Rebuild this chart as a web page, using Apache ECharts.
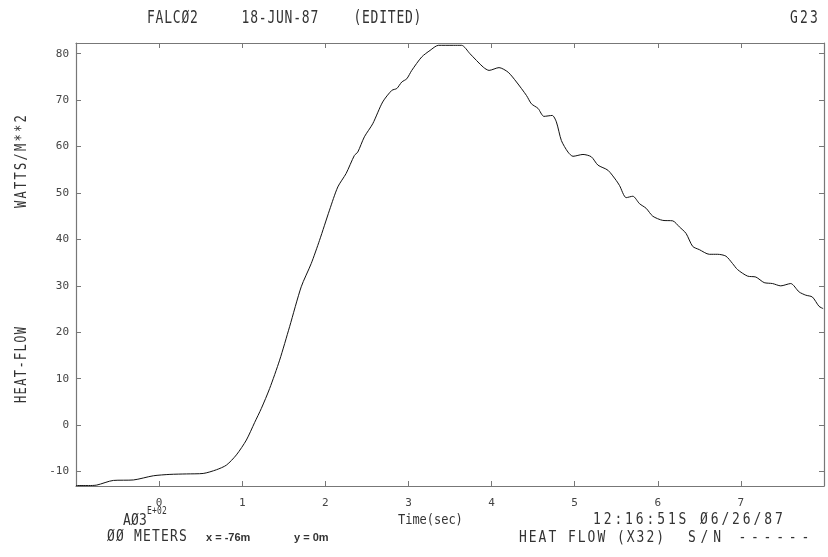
<!DOCTYPE html>
<html>
<head>
<meta charset="utf-8">
<script src="https://cdn.jsdelivr.net/npm/echarts@6/dist/echarts.min.js"></script>
<style>
html,body{margin:0;padding:0;background:#fff;}
#chart{width:828px;height:557px;}
</style>
</head>
<body>
<div id="chart"></div>
<script>
// Time (sec)
var timeSec = [-1.0, -0.85, -0.75, -0.55, -0.31, -0.07, 0.13, 0.33, 0.53, 0.69, 0.81, 0.93, 1.05, 1.15, 1.23, 1.33, 1.45, 1.57, 1.71, 1.83, 1.93, 2.05, 2.15, 2.25, 2.35, 2.39, 2.47, 2.57, 2.69, 2.80, 2.86, 2.92, 2.98, 3.04, 3.16, 3.26, 3.36, 3.54, 3.64, 3.74, 3.90, 3.97, 4.09, 4.20, 4.30, 4.42, 4.48, 4.56, 4.63, 4.73, 4.78, 4.84, 4.92, 4.98, 5.10, 5.20, 5.28, 5.40, 5.50, 5.54, 5.62, 5.70, 5.78, 5.86, 5.94, 6.06, 6.18, 6.26, 6.34, 6.42, 6.50, 6.62, 6.72, 6.82, 6.90, 6.96, 7.08, 7.18, 7.28, 7.38, 7.48, 7.60, 7.70, 7.78, 7.86, 7.94, 7.99];
// Heat flow (WATTS/M**2)
var heatFlow = [-13.0, -13.0, -12.9, -11.9, -11.8, -10.9, -10.6, -10.5, -10.4, -9.6, -8.6, -6.4, -3.2, 0.6, 3.6, 7.9, 14.0, 21.2, 29.8, 34.8, 39.8, 46.3, 51.3, 54.2, 58.1, 58.8, 62.1, 64.9, 69.6, 72.1, 72.5, 73.9, 74.6, 76.4, 79.3, 80.7, 81.8, 81.8, 81.8, 80.0, 77.1, 76.4, 77.0, 76.0, 73.9, 71.0, 69.2, 68.2, 66.5, 66.7, 65.3, 61.3, 58.8, 57.9, 58.3, 57.8, 56.0, 54.9, 52.7, 51.6, 49.0, 49.3, 47.7, 46.7, 45.0, 44.1, 44.0, 42.7, 41.3, 38.5, 37.8, 36.8, 36.8, 36.4, 34.8, 33.5, 32.1, 31.9, 30.7, 30.5, 30.0, 30.5, 28.7, 28.0, 27.6, 25.6, 25.1];
var xTicks = [0, 1, 2, 3, 4, 5, 6, 7];
var yTicks = [-10, 0, 10, 20, 30, 40, 50, 60, 70, 80];

var chart = echarts.init(document.getElementById('chart'), null, {renderer: 'canvas'});
var MONO = "'DejaVu Sans Mono', 'Liberation Mono', monospace";
var TXT = '#333';
var AX = '#777';

var pts = timeSec.map(function (t, i) { return [t, heatFlow[i]]; });

// plotter-style text: monospace glyphs at fixed pitch from left edge L, stretched vertically by sy
function plot(L, y, pitch, s, size, sy) {
  var kids = [];
  for (var i = 0; i < s.length; i++) {
    if (s[i] === ' ') continue;
    kids.push({
      type: 'text', x: L + size * 0.3 + i * pitch, y: y, scaleY: sy || 1,
      style: {text: s[i], fill: TXT, font: size + 'px ' + MONO,
        textAlign: 'center', textVerticalAlign: 'middle'}
    });
  }
  return {type: 'group', children: kids};
}
// vertical, reading bottom to top, starting at bottom edge B
function vplot(x, B, pitch, s, size, sy) {
  var kids = [];
  for (var i = 0; i < s.length; i++) {
    if (s[i] === ' ') continue;
    kids.push({
      type: 'text', x: x, y: B - size * 0.3 - i * pitch, rotation: Math.PI / 2, scaleY: sy || 1,
      style: {text: s[i], fill: TXT, font: size + 'px ' + MONO,
        textAlign: 'center', textVerticalAlign: 'middle'}
    });
  }
  return {type: 'group', children: kids};
}
function plain(x, y, s, size, weight) {
  return {type: 'text', x: x, y: y,
    style: {text: s, fill: TXT, font: (weight || 'normal') + ' ' + size + "px 'Liberation Sans', Arial, sans-serif",
      textAlign: 'left', textVerticalAlign: 'middle'}};
}

function axisCommon(ticks) {
  return {
    axisLine: {show: true, onZero: false, lineStyle: {color: AX, width: 1.2}},
    axisTick: {show: true, inside: true, length: 5, customValues: ticks, lineStyle: {color: AX}},
    splitLine: {show: false}
  };
}

var option = {
  backgroundColor: '#fff',
  animation: false,
  grid: {left: 76, right: 4, top: 43, bottom: 71, containLabel: false},
  xAxis: [
    Object.assign({type: 'value', min: -1, max: 8, interval: 1, position: 'bottom',
      axisLabel: {show: true, customValues: xTicks, margin: 12, fontSize: 11, color: '#444', fontFamily: MONO}
    }, axisCommon(xTicks)),
    Object.assign({type: 'value', min: -1, max: 8, interval: 1, position: 'top',
      axisLabel: {show: false}
    }, axisCommon(xTicks))
  ],
  yAxis: [
    Object.assign({type: 'value', min: -13.1, max: 82.3, position: 'left',
      axisLabel: {show: true, customValues: yTicks, margin: 7, fontSize: 11, color: '#444', fontFamily: MONO}
    }, axisCommon(yTicks)),
    Object.assign({type: 'value', min: -13.1, max: 82.3, position: 'right',
      axisLabel: {show: false}
    }, axisCommon(yTicks))
  ],
  series: [{
    type: 'line',
    data: pts,
    xAxisIndex: 0, yAxisIndex: 0,
    showSymbol: false,
    smooth: 0.25,
    lineStyle: {color: '#111', width: 1},
    clip: true
  }],
  graphic: [
    plot(147, 18, 8.6, 'FALCØ2     18-JUN-87    (EDITED)', 13, 1.35),
    plot(790, 18, 10, 'G23', 13, 1.35),
    vplot(22, 208, 9.5, 'WATTS/M**2', 12, 1.25),
    vplot(22, 403, 8.6, 'HEAT-FLOW', 12, 1.25),
    plot(123, 521, 8, 'AØ3', 13, 1.15),
    plot(147, 512, 5, 'E+02', 8, 1.2),
    plot(107, 537, 9, 'ØØ METERS', 13, 1.15),
    plain(206, 538, 'x = -76m', 11, 'bold'),
    plain(294, 538, 'y = 0m', 11, 'bold'),
    plot(398, 520, 7.2, 'Time(sec)', 12, 1.2),
    plot(593, 520, 10.7, '12:16:51S Ø6/26/87', 13, 1.2),
    plot(519, 538, 9.8, 'HEAT FLOW (X32)', 13, 1.15),
    plot(688, 538, 12.6, 'S/N ------', 13, 1.15)
  ]
};
chart.setOption(option);
</script>
</body>
</html>
